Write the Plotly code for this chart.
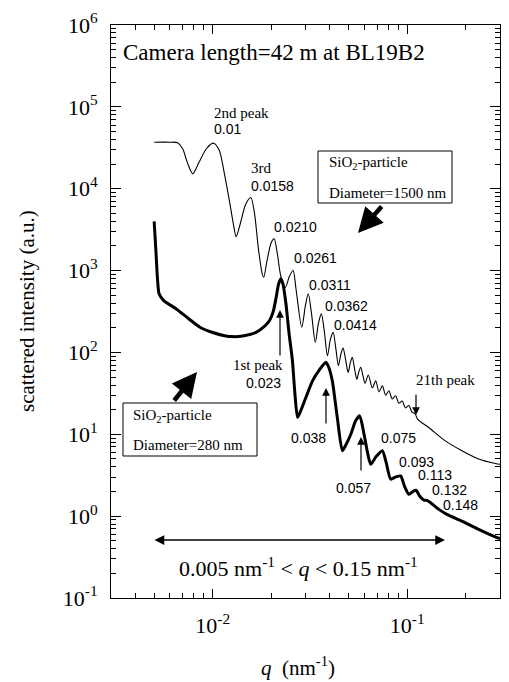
import plotly.graph_objects as go

# ---- data: SiO2 particle, diameter 1500 nm (thin line) ----
q_1500 = [0.0050, 0.0060, 0.0066, 0.0070, 0.0074, 0.0079, 0.0085, 0.0093, 0.0101, 0.0108,
          0.0115, 0.0122, 0.0128, 0.0132, 0.0138, 0.0148, 0.0157, 0.0164, 0.0172, 0.0180,
          0.0183, 0.0190, 0.0200, 0.0207, 0.0215, 0.0224, 0.0236, 0.0248, 0.0259, 0.0268,
          0.0287, 0.0300, 0.0310, 0.0322, 0.0337, 0.0350, 0.0362, 0.0375, 0.0389, 0.0403,
          0.0416, 0.0430, 0.0443, 0.0456, 0.0468, 0.0483, 0.0497, 0.0510, 0.0522, 0.0537,
          0.0551, 0.0564, 0.0577, 0.0592, 0.0607, 0.0631, 0.0662, 0.0689, 0.0716, 0.0745,
          0.0775, 0.0805, 0.0838, 0.0871, 0.0906, 0.0942, 0.0980, 0.1020, 0.1060, 0.1096,
          0.1130, 0.1290, 0.1570, 0.1910, 0.2330, 0.2840, 0.3000]
I_1500 = [3.7e4, 3.7e4, 3.65e4, 3.1e4, 2.1e4, 1.52e4, 2.1e4, 3.1e4, 3.6e4, 2.95e4,
          1.5e4, 7.0e3, 3.6e3, 2.6e3, 3.6e3, 6.5e3, 7.8e3, 5.0e3, 1.8e3, 900,
          830, 1300, 2200, 2450, 1600, 850, 620, 850, 1000, 600,
          203, 380, 520, 300, 133, 230, 296, 180, 91, 145,
          176, 110, 69, 95, 113, 80, 57, 75, 87, 62,
          47, 58, 66, 52, 42, 53, 37, 45, 33, 39,
          30, 34, 27, 29.5, 24, 25.5, 21, 22.5, 18.5, 18.0,
          15.3, 12.1, 8.3, 6.3, 5.0, 4.4, 4.3]

# ---- data: SiO2 particle, diameter 280 nm (thick line) ----
q_280 = [0.0050, 0.0051, 0.0052, 0.0053, 0.0056, 0.0065, 0.0075, 0.0086, 0.0100, 0.0115,
         0.0127, 0.0145, 0.0167, 0.0185, 0.0196, 0.0205, 0.0212, 0.0218, 0.0224, 0.0230,
         0.0238, 0.0247, 0.0257, 0.0265, 0.0273, 0.0285, 0.0301, 0.0326, 0.0355, 0.0382,
         0.0395, 0.0412, 0.0437, 0.0464, 0.0485, 0.0513, 0.0543, 0.0570, 0.0600, 0.0625,
         0.0649, 0.0690, 0.0745, 0.0780, 0.0822, 0.0870, 0.0925, 0.0970, 0.1020, 0.1070,
         0.1110, 0.1160, 0.1220, 0.1270, 0.1320, 0.1455, 0.1600, 0.1910, 0.2300, 0.2900,
         0.3000]
I_280 = [4000, 1800, 800, 520, 430, 340, 260, 203, 175, 160,
         156, 160, 176, 210, 245, 320, 472, 680, 794, 680,
         393, 170, 79, 30, 16.1, 20, 28, 45, 62, 76,
         66, 45, 16.1, 6.3, 7.5, 10, 14.6, 16.8, 10, 6.0,
         4.3, 5.3, 6.3, 4.5, 2.83, 3.0, 3.1, 2.3, 1.85, 2.0,
         2.07, 1.75, 1.57, 1.55, 1.46, 1.21, 1.05, 0.87, 0.70, 0.546,
         0.53]

# ---- axis tick labels ----
x_tickvals = [0.01, 0.1]
x_ticktext = ["10<sup>-2</sup>", "10<sup>-1</sup>"]
y_tickvals = [0.1, 1, 10, 100, 1e3, 1e4, 1e5, 1e6]
y_ticktext = ["10<sup>-1</sup>", "10<sup>0</sup>", "10<sup>1</sup>", "10<sup>2</sup>",
              "10<sup>3</sup>", "10<sup>4</sup>", "10<sup>5</sup>", "10<sup>6</sup>"]

SERIF = "Liberation Serif, Times New Roman, serif"
SANS = "Liberation Sans, Arial, sans-serif"

W, H = 509, 682
L, R, T, B = 111, 9, 25, 84
PW, PH = W - L - R, H - T - B


def px(x):
    return (x - L) / PW


def py(y):
    return (H - B - y) / PH


fig = go.Figure()
fig.add_trace(go.Scatter(x=q_1500, y=I_1500, mode="lines",
                         line=dict(color="black", width=1.1, shape="spline", smoothing=0.8),
                         showlegend=False, hoverinfo="skip"))
fig.add_trace(go.Scatter(x=q_280, y=I_280, mode="lines",
                         line=dict(color="black", width=3, shape="spline", smoothing=0.6),
                         showlegend=False, hoverinfo="skip"))

minor_x = [m * 10 ** e for e in (-3, -2, -1) for m in range(2, 10)]
minor_y = [m * 10 ** e for e in range(-1, 6) for m in range(2, 10)]

axis_common = dict(type="log", showline=True, linecolor="black", linewidth=1,
                   mirror="ticks", ticks="inside", tickcolor="black", tickwidth=1,
                   showgrid=False, zeroline=False, tickmode="array",
                   tickfont=dict(family=SERIF, size=22, color="black"))

fig.update_xaxes(**axis_common, range=[-2.5229, -0.5229], ticklen=9,
                 tickvals=x_tickvals, ticktext=x_ticktext, ticklabelstandoff=8,
                 minor=dict(tickmode="array", tickvals=minor_x, ticks="inside",
                            ticklen=5, tickcolor="black", tickwidth=1, showgrid=False))
fig.update_yaxes(**axis_common, range=[-1, 6], ticklen=10,
                 tickvals=y_tickvals, ticktext=y_ticktext, ticklabelstandoff=8,
                 minor=dict(tickmode="array", tickvals=minor_y, ticks="inside",
                            ticklen=5, tickcolor="black", tickwidth=1, showgrid=False))

ann = []


def text(x, y, s, size=15, fam=SERIF, anchor="left", **kw):
    ann.append(dict(x=px(x), y=py(y), xref="paper", yref="paper", text=s, showarrow=False,
                    xanchor=anchor, yanchor="middle",
                    font=dict(family=fam, size=size, color="black"), **kw))


def arrow(x_tail, y_tail, x_tip, y_tip, width=1.2, head=2, size=1.3, side="end"):
    ann.append(dict(x=px(x_tip), y=py(y_tip), xref="paper", yref="paper", text="",
                    showarrow=True, ax=x_tail - x_tip, ay=y_tail - y_tip,
                    arrowhead=head, arrowsize=size, arrowwidth=width, arrowcolor="black",
                    arrowside=side, standoff=0, startstandoff=0))


text(121, 52, "Camera length=42 m at BL19B2", size=23)
text(212, 113, "2nd peak", size=15)
text(212, 129, "0.01", size=14, fam=SANS)
text(249, 168, "3rd", size=15)
text(249, 186, "0.0158", size=14, fam=SANS)
text(272, 227, "0.0210", size=14, fam=SANS)
text(292, 258, "0.0261", size=14, fam=SANS)
text(307, 285, "0.0311", size=14, fam=SANS)
text(323, 306, "0.0362", size=14, fam=SANS)
text(332, 325, "0.0414", size=14, fam=SANS)
text(414, 380, "21th peak", size=15)
text(285, 365, "1st peak", size=15, anchor="right")
text(283, 383, "0.023", size=14, fam=SANS, anchor="right")
text(289, 438, "0.038", size=14, fam=SANS)
text(334, 488, "0.057", size=14, fam=SANS)
text(379, 438, "0.075", size=14, fam=SANS)
text(397, 462, "0.093", size=14, fam=SANS)
text(416, 475, "0.113", size=14, fam=SANS)
text(430, 490, "0.132", size=14, fam=SANS)
text(441, 505, "0.148", size=14, fam=SANS)

# box texts
text(327, 163, "SiO<sub>2</sub>-particle", size=15)
text(327, 193, "Diameter=1500 nm", size=15)
text(131, 416, "SiO<sub>2</sub>-particle", size=15)
text(131, 445, "Diameter=280 nm", size=15)

# range text
text(298, 567, "0.005 nm<sup>-1</sup> &lt; <i>q</i> &lt; 0.15 nm<sup>-1</sup>", size=22, anchor="center")

# axis titles
text(298, 666, "<i>q</i>  (nm<sup>-1</sup>)", size=21, anchor="center")
ann.append(dict(x=px(27), y=py(311), xref="paper", yref="paper",
                text="scattered intensity (a.u.)", showarrow=False, textangle=-90,
                xanchor="center", yanchor="middle",
                font=dict(family=SERIF, size=21, color="black")))

# thin arrows to peaks
arrow(280, 357, 280, 310)
arrow(326, 425, 326, 388)
arrow(361, 472, 361, 437)
arrow(416, 393, 416, 415)
# thick pointer arrows
arrow(383, 205, 358, 233, width=4.5, head=2, size=1.1)
arrow(173, 402, 197, 372, width=4.5, head=2, size=1.1)
# double arrow for q range
arrow(153, 540, 445, 540, width=1.3, head=2, size=1.5, side="end+start")

shapes = [
    dict(type="rect", xref="paper", yref="paper", x0=px(318), x1=px(452), y0=py(151), y1=py(203),
         line=dict(color="black", width=1), fillcolor="rgba(0,0,0,0)"),
    dict(type="rect", xref="paper", yref="paper", x0=px(123), x1=px(257), y0=py(403), y1=py(456),
         line=dict(color="black", width=1), fillcolor="rgba(0,0,0,0)"),
]

fig.update_layout(width=W, height=H, margin=dict(l=L, r=R, t=T, b=B),
                  paper_bgcolor="white", plot_bgcolor="white",
                  annotations=ann, shapes=shapes, showlegend=False)

fig.write_html("out.html")
